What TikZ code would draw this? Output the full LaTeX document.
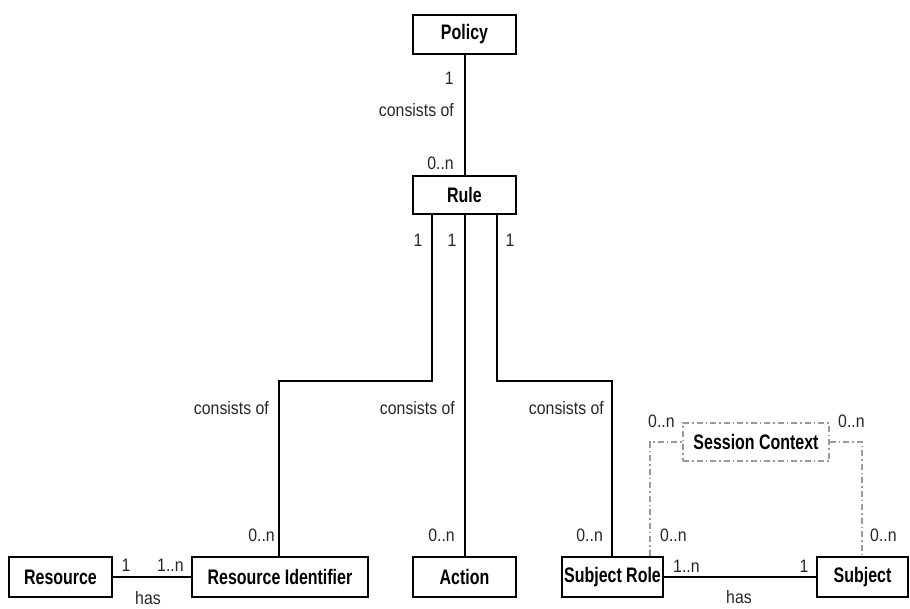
\documentclass[tikz,border=0pt]{standalone}
\usepackage{fontspec}
\setmainfont{Liberation Sans}
\newfontfamily\boxfont[FakeStretch=0.76]{Liberation Sans Bold}
\newfontfamily\lblfont[FakeStretch=0.88]{Liberation Sans}
\begin{document}
\begin{tikzpicture}[x=1pt,y=-1pt,
  entity/.style={draw=black, line width=2.4pt, rectangle, inner sep=0pt, font=\boxfont\fontsize{21}{24}\selectfont},
  sess/.style={draw=gray!80, line width=1.5pt, dash pattern=on 6pt off 3pt on 1.5pt off 3pt, rectangle, inner sep=0pt, font=\boxfont\fontsize{21}{24}\selectfont},
  conn/.style={draw=black, line width=2pt},
  dconn/.style={draw=gray!80, line width=1.5pt, dash pattern=on 6pt off 3pt on 1.5pt off 3pt},
  lbl/.style={font=\lblfont\fontsize{18}{20}\selectfont, text=black!85, inner sep=0pt}]
\useasboundingbox (0,0) rectangle (910,608);
\node[entity, minimum width=103pt, minimum height=39pt] (policy) at (464.5,34.5) {Policy};
\node[entity, minimum width=103pt, minimum height=38pt] (rule) at (464.5,195) {Rule};
\node[entity, minimum width=103pt, minimum height=40pt] (resource) at (60.5,577) {Resource};
\node[entity, minimum width=176pt, minimum height=40pt] (resid) at (280,577) {Resource Identifier};
\node[entity, minimum width=103pt, minimum height=40pt] (action) at (464.5,577) {Action};
\node[entity, minimum width=101pt, minimum height=40pt] (subrole) at (612.5,577) {Subject Role};
\node[entity, minimum width=91pt, minimum height=40pt] (subject) at (862.5,577) {Subject};
\node[sess, minimum width=146pt, minimum height=38pt] (session) at (756,442) {Session Context};

\draw[conn] (policy.south) -- (rule.north);
\draw[conn] (rule.south -| 432,0) |- (279,381) -- (resid.north -| 279,0);
\draw[conn] (rule.south) -- (action.north);
\draw[conn] (rule.south -| 497,0) |- (612,381) -- (subrole.north -| 612,0);
\draw[conn] (resource.east) -- (resid.west);
\draw[conn] (subrole.east) -- (subject.west);
\draw[dconn] (subrole.north -| 650,0) |- (session.west);
\draw[dconn] (session.east) -| (subject.north -| 862,0);

\node[lbl, anchor=east] (l1) at (454,78) {1};
\node[lbl, anchor=east] (l2) at (454,110) {consists of};
\node[lbl, anchor=east] (l3) at (454,163) {0..n};
\node[lbl] (l4) at (418,240) {1};
\node[lbl] (l5) at (452,240) {1};
\node[lbl] (l6) at (510,240) {1};
\node[lbl, anchor=east] (l7) at (269,408) {consists of};
\node[lbl, anchor=east] (l8) at (455,408) {consists of};
\node[lbl, anchor=east] (l9) at (604,408) {consists of};
\node[lbl, anchor=east] (l10) at (275,535) {0..n};
\node[lbl, anchor=east] (l11) at (455,535) {0..n};
\node[lbl, anchor=east] (l12) at (603,535) {0..n};
\node[lbl, anchor=west] (l13) at (660,535) {0..n};
\node[lbl, anchor=west] (l14) at (870,535) {0..n};
\node[lbl, anchor=west] (l15) at (648,421) {0..n};
\node[lbl, anchor=west] (l16) at (838,421) {0..n};
\node[lbl] (l17) at (126,565) {1};
\node[lbl, anchor=west] (l18) at (157,565) {1..n};
\node[lbl] (l19) at (148,598) {has};
\node[lbl, anchor=west] (l20) at (673,566) {1..n};
\node[lbl] (l21) at (804,566) {1};
\node[lbl] (l22) at (739,597) {has};
\end{tikzpicture}
\end{document}
